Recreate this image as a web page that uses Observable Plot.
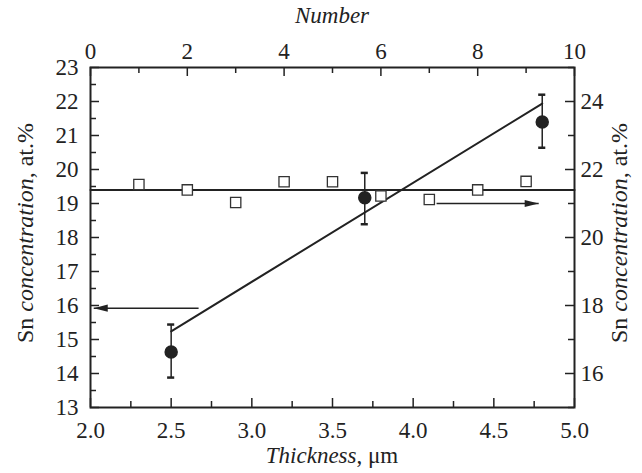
<!DOCTYPE html>
<html>
<head>
<meta charset="utf-8">
<script src="https://cdn.jsdelivr.net/npm/d3@7"></script>
<script src="https://cdn.jsdelivr.net/npm/@observablehq/plot@0.6"></script>
<style>
  body { margin: 0; background: #fff; }
  #chart svg, #chart svg text, #chart svg tspan { font-family: 'Liberation Serif', 'Times New Roman', serif !important; }
  #chart svg .it { font-style: italic; }
</style>
</head>
<body>
<div id="chart"></div>
<script>
// Thickness series (bottom / left axes)
const thickness = [2.5, 3.7, 4.8];
const snThickness = [14.63, 19.17, 21.4];
const errLow = [13.88, 18.39, 20.64];
const errHigh = [15.44, 19.9, 22.2];
const fitThickness = [2.5, 4.8];
const fitSn = [15.24, 21.94];

// Number series (top / right axes)
const number = [1, 2, 3, 4, 5, 6, 7, 8, 9];
const snNumber = [21.56, 21.4, 21.03, 21.64, 21.64, 21.22, 21.12, 21.4, 21.65];
const meanNumberRange = [0, 10];
const meanSnRight = 21.4;

// Arrow annotations
const leftArrow = {x1: 2.67, x2: 2.02, y: 15.92};      // thickness / left axis
const rightArrow = {n1: 7.15, n2: 9.26, y: 21.0};      // number / right axis

// Tick values
const bottomTicks = [2.0, 2.5, 3.0, 3.5, 4.0, 4.5, 5.0];
const bottomMinor = [2.25, 2.75, 3.25, 3.75, 4.25, 4.75];
const leftTicks = [13, 14, 15, 16, 17, 18, 19, 20, 21, 22, 23];
const leftMinor = [13.5, 14.5, 15.5, 16.5, 17.5, 18.5, 19.5, 20.5, 21.5, 22.5];
const topTicks = [0, 2, 4, 6, 8, 10];
const topMinor = [1, 3, 5, 7, 9];
const rightTicks = [16, 18, 20, 22, 24];
const rightMinor = [15, 17, 19, 21, 23, 25];

// secondary axes expressed on the primary scales
const numToX = n => 2 + 0.3 * n;
const xToNum = x => (x - 2) / 0.3;
const rightToY = v => v - 2;
const yToRight = y => y + 2;

const circles = thickness.map((t, i) => ({t, v: snThickness[i], lo: errLow[i], hi: errHigh[i]}));
const squares = number.map((n, i) => ({n, v: snNumber[i]}));
const fit = fitThickness.map((t, i) => ({t, v: fitSn[i]}));
const arrows = [
  {x1: leftArrow.x1, x2: leftArrow.x2, y: leftArrow.y, rot: 180},
  {x1: numToX(rightArrow.n1), x2: numToX(rightArrow.n2), y: rightToY(rightArrow.y), rot: 0}
];
const capHalf = 0.022;

const W = 642, H = 473, ML = 90, MR = 68, MT = 67, MB = 66;
const FW = W - ML - MR, FH = H - MT - MB;
const major = 9, minor = 6;

const font = "'Liberation Serif', 'Times New Roman', serif";
const fs = 23;
const ink = "#222";

// narrow filled arrowhead, tip at the origin, pointing to +x
const arrowHead = {
  draw(context) {
    context.moveTo(0, 0);
    context.lineTo(-14, -3.6);
    context.lineTo(-14, 3.6);
    context.closePath();
  }
};

const plot = Plot.plot({
  width: W,
  height: H,
  marginLeft: ML,
  marginRight: MR,
  marginTop: MT,
  marginBottom: MB,
  style: {fontFamily: font, fontSize: fs + "px", color: ink, background: "#fff"},
  x: {domain: [2, 5], axis: null},
  y: {domain: [13, 23], axis: null},
  marks: [
    // tick labels
    Plot.axisX(bottomTicks, {anchor: "bottom", tickSize: 0, tickPadding: 14, tickFormat: d => d.toFixed(1), label: null, fontSize: fs, fontFamily: font}),
    Plot.axisY(leftTicks, {anchor: "left", tickSize: 0, tickPadding: 12, tickFormat: d => String(d), label: null, fontSize: fs, fontFamily: font}),
    Plot.axisX(topTicks.map(numToX), {anchor: "top", tickSize: 0, tickPadding: 9, tickFormat: d => String(Math.round(xToNum(d))), label: null, fontSize: fs, fontFamily: font}),
    Plot.axisY(rightTicks.map(rightToY), {anchor: "right", tickSize: 0, tickPadding: 6, tickFormat: d => String(Math.round(yToRight(d))), label: null, fontSize: fs, fontFamily: font}),
    // inward ticks
    Plot.ruleX(bottomTicks, {x: d => d, insetTop: FH - major, stroke: ink, strokeWidth: 1.5}),
    Plot.ruleX(bottomMinor, {x: d => d, insetTop: FH - minor, stroke: ink, strokeWidth: 1.5}),
    Plot.ruleX(topTicks, {x: numToX, insetBottom: FH - major, stroke: ink, strokeWidth: 1.5}),
    Plot.ruleX(topMinor, {x: numToX, insetBottom: FH - minor, stroke: ink, strokeWidth: 1.5}),
    Plot.ruleY(leftTicks, {y: d => d, insetRight: FW - major, stroke: ink, strokeWidth: 1.5}),
    Plot.ruleY(leftMinor, {y: d => d, insetRight: FW - minor, stroke: ink, strokeWidth: 1.5}),
    Plot.ruleY(rightTicks, {y: rightToY, insetLeft: FW - major, stroke: ink, strokeWidth: 1.5}),
    Plot.ruleY(rightMinor, {y: rightToY, insetLeft: FW - minor, stroke: ink, strokeWidth: 1.5}),
    Plot.frame({stroke: ink, strokeWidth: 2}),
    // mean horizontal line (number / right axis)
    Plot.line(meanNumberRange, {x: n => numToX(n), y: () => rightToY(meanSnRight), stroke: ink, strokeWidth: 2}),
    // fit line
    Plot.line(fit, {x: "t", y: "v", stroke: ink, strokeWidth: 2}),
    // error bars
    Plot.ruleX(circles, {x: "t", y1: "lo", y2: "hi", stroke: ink, strokeWidth: 1.5}),
    Plot.ruleY(circles, {y: "lo", x1: d => d.t - capHalf, x2: d => d.t + capHalf, stroke: ink, strokeWidth: 2.5}),
    Plot.ruleY(circles, {y: "hi", x1: d => d.t - capHalf, x2: d => d.t + capHalf, stroke: ink, strokeWidth: 2.5}),
    // squares
    Plot.dot(squares, {x: d => numToX(d.n), y: d => rightToY(d.v), symbol: "square", r: 5.8, fill: "#fff", stroke: "#333", strokeWidth: 1.3}),
    // circles
    Plot.dot(circles, {x: "t", y: "v", r: 6, fill: ink, stroke: ink}),
    // arrows: shaft + filled head
    Plot.link(arrows, {x1: "x1", x2: "x2", y1: "y", y2: "y", stroke: ink, strokeWidth: 1.5}),
    Plot.dot(arrows, {x: "x2", y: "y", symbol: arrowHead, rotate: "rot", fill: ink, stroke: "none"})
  ]
});

const svg = d3.select(plot);
function addLabel(x, y, rotate, size, parts) {
  const t = svg.append("text")
    .attr("transform", `translate(${x},${y}) rotate(${rotate})`)
    .attr("text-anchor", "middle")
    .attr("dominant-baseline", "middle")
    .attr("fill", ink)
    .style("font-size", size + "px");
  parts.forEach(([s, it]) => t.append("tspan").attr("class", it ? "it" : null).text(s));
}
addLabel(27, 233, -90, 24, [["Sn ", false], ["concentration", true], [", at.%", false]]);
addLabel(621, 233, -90, 24, [["Sn ", false], ["concentration", true], [", at.%", false]]);
addLabel(332, 18, 0, fs, [["Number", true]]);
addLabel(332, 458, 0, fs, [["Thickness", true], [", \u03bcm", false]]);

document.getElementById("chart").appendChild(plot);
</script>
</body>
</html>
